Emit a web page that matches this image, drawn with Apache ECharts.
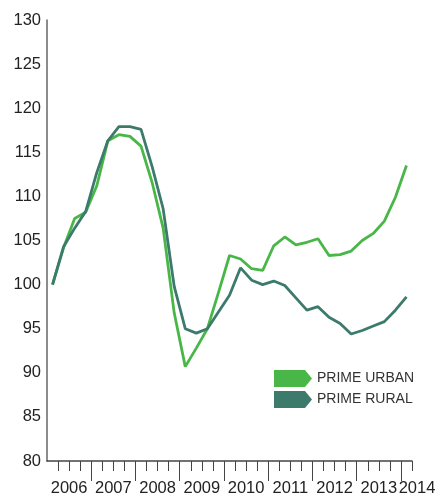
<!DOCTYPE html>
<html>
<head>
<meta charset="utf-8">
<style>
  html, body { margin: 0; padding: 0; background: #fff; }
  #container { width: 443px; height: 497px; }
</style>
<script src="https://cdn.jsdelivr.net/npm/echarts@6/dist/echarts.min.js"></script>
</head>
<body>
<div id="container"></div>
<script>
var dom = document.getElementById('container');
var myChart = echarts.init(dom, null, { renderer: 'canvas' });

// quarterly index, Q1 2006 = 100
var quarters = [];
for (var y = 2006; y <= 2014; y++) {
  for (var q = 1; q <= 4; q++) {
    if (quarters.length < 33) quarters.push(y + ' Q' + q);
  }
}
var primeUrban = [100, 104.2, 107.5, 108.2, 111.2, 116.3, 117.0, 116.8, 115.7, 111.6, 106.4, 96.8,
  90.7, 92.8, 95.0, 99.1, 103.3, 102.9, 101.8, 101.6, 104.4, 105.4, 104.5, 104.8,
  105.2, 103.3, 103.4, 103.8, 105.0, 105.8, 107.2, 109.9, 113.5];
var primeRural = [100, 104.3, 106.4, 108.3, 112.7, 116.3, 117.9, 117.9, 117.6, 113.4, 108.6, 99.8,
  95.0, 94.5, 95.0, 96.9, 98.8, 101.9, 100.5, 100.0, 100.4, 99.9, 98.5, 97.1,
  97.5, 96.3, 95.6, 94.4, 94.8, 95.3, 95.8, 97.1, 98.6];
var yearLabels = ['2006', '2007', '2008', '2009', '2010', '2011', '2012', '2013', '2014'];

// boundaries between quarters (34 of them), used for ticks and year labels
var boundaries = [];
for (var i = 0; i <= 33; i++) boundaries.push('');
for (var j = 0; j < 8; j++) boundaries[2 + j * 4] = yearLabels[j];
boundaries[33] = yearLabels[8];

var font = 'Liberation Sans, Arial, Helvetica, sans-serif';
var urbanColor = '#48b748';
var ruralColor = '#3c7a6c';
var arrow = 'path://M0,0 L31,0 L38,8.5 L31,17 L0,17 Z';

var option = {
  animation: false,
  grid: { left: 47, right: 31, top: 20, bottom: 34 },
  legend: {
    orient: 'vertical',
    left: 274,
    top: 370,
    padding: 0,
    itemWidth: 38,
    itemHeight: 17,
    itemGap: 4,
    textStyle: { fontFamily: font, fontSize: 14, color: '#333' },
    data: [
      { name: 'PRIME URBAN', icon: arrow },
      { name: 'PRIME RURAL', icon: arrow }
    ]
  },
  xAxis: [
    {
      type: 'category',
      data: quarters,
      boundaryGap: true,
      axisLine: { lineStyle: { color: '#444', width: 1.5 } },
      axisTick: { show: false },
      axisLabel: { show: false }
    },
    {
      type: 'category',
      data: boundaries,
      boundaryGap: false,
      position: 'bottom',
      axisLine: { show: false },
      axisTick: {
        interval: function (idx) { return idx > 0; },
        length: 10,
        lineStyle: { color: '#444', width: 1 }
      },
      axisLabel: { show: false }
    },
    {
      type: 'category',
      data: boundaries,
      boundaryGap: false,
      position: 'bottom',
      axisLine: { show: false },
      axisTick: {
        interval: function (idx) { return idx > 0 && idx % 4 === 0; },
        length: 20,
        lineStyle: { color: '#444', width: 1 }
      },
      axisLabel: {
        interval: 0,
        margin: 19,
        fontFamily: font,
        fontSize: 16.5,
        color: '#222',
        formatter: function (v) { return v === '2014' ? '{e|2014}' : v; },
        rich: { e: { fontFamily: font, fontSize: 16.5, color: '#222', padding: [0, 0, 0, 10] } }
      }
    }
  ],
  yAxis: {
    type: 'value',
    min: 80,
    max: 130,
    interval: 5,
    axisLine: { show: true, lineStyle: { color: '#666', width: 1.5 } },
    axisTick: { show: false },
    splitLine: { show: false },
    axisLabel: { margin: 6, fontFamily: font, fontSize: 16.5, color: '#222' }
  },
  series: [
    {
      name: 'PRIME URBAN',
      type: 'line',
      xAxisIndex: 0,
      data: primeUrban,
      symbol: 'none',
      color: urbanColor,
      lineStyle: { color: urbanColor, width: 2.8 },
      z: 2
    },
    {
      name: 'PRIME RURAL',
      type: 'line',
      xAxisIndex: 0,
      data: primeRural,
      symbol: 'none',
      color: ruralColor,
      lineStyle: { color: ruralColor, width: 2.8 },
      z: 3
    }
  ]
};

myChart.setOption(option);
window.addEventListener('resize', myChart.resize);
</script>
</body>
</html>
